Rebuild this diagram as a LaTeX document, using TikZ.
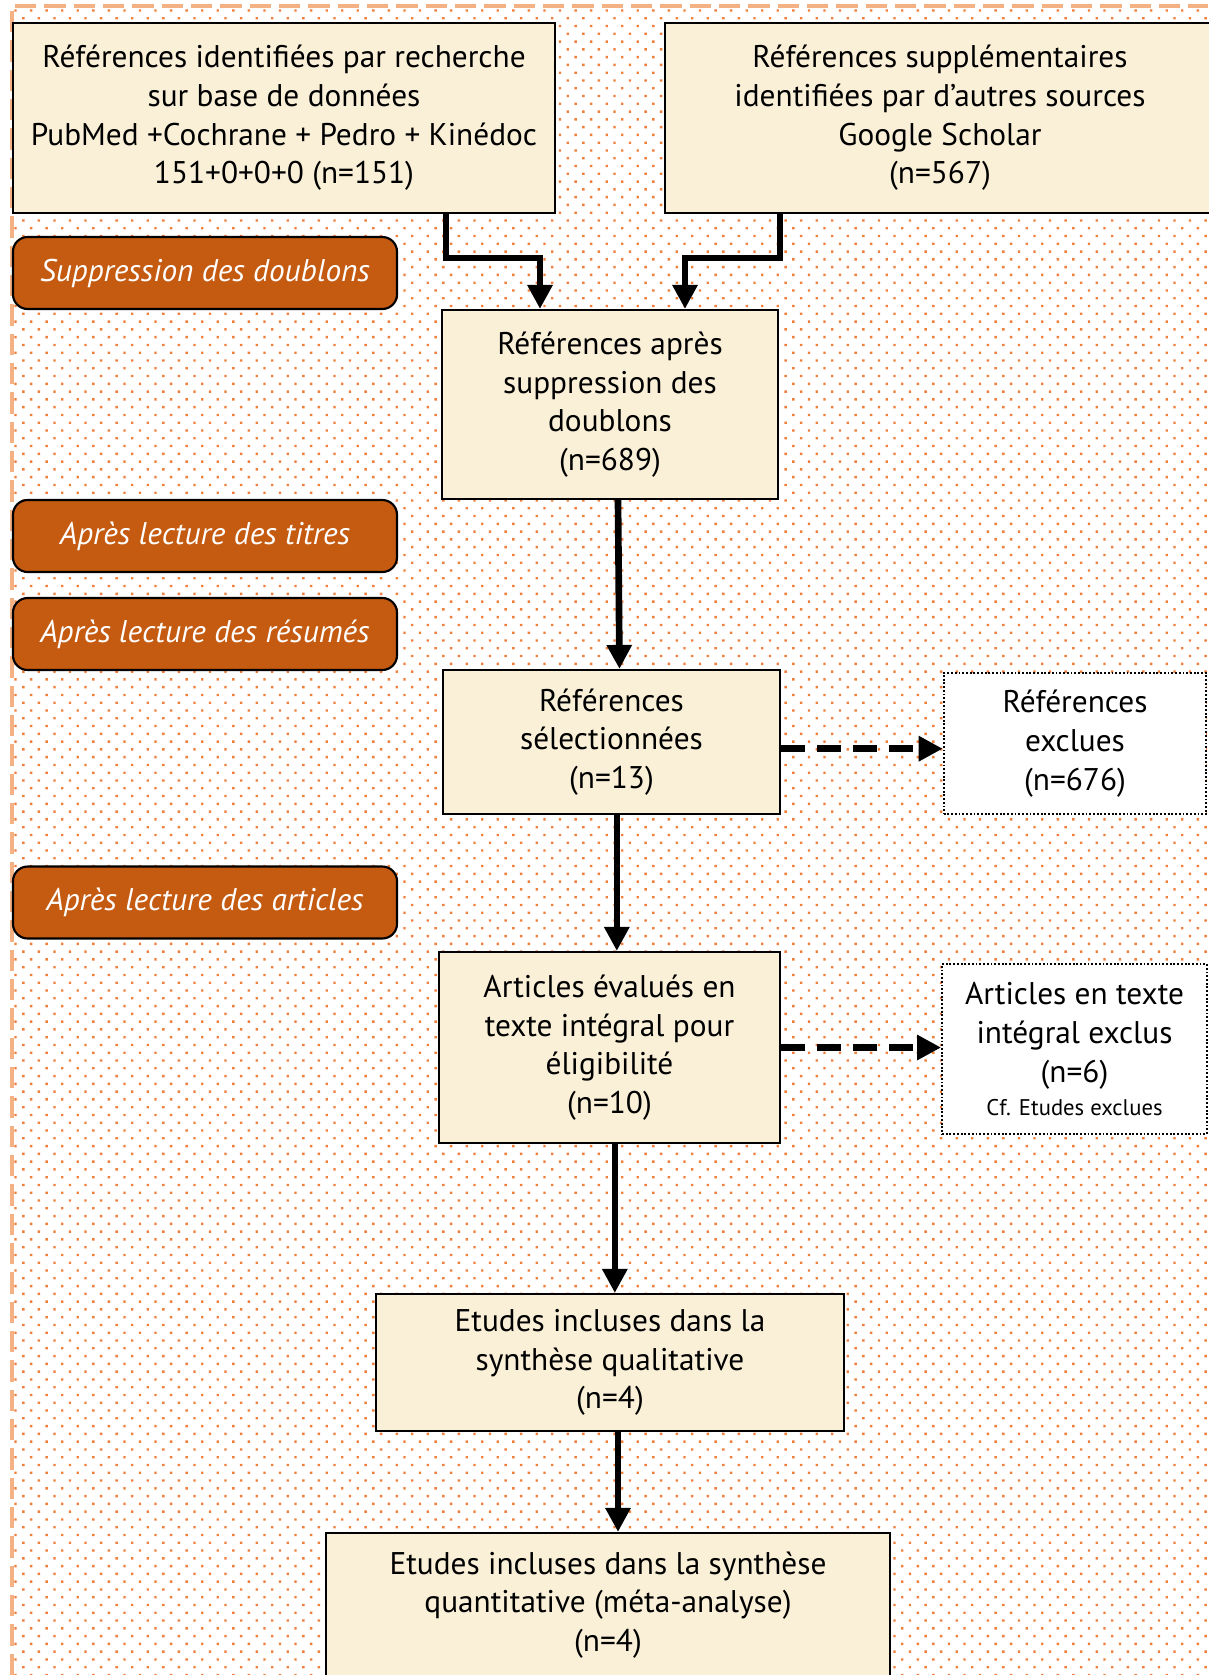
\documentclass[tikz,border=0pt]{standalone}
\usepackage{fontspec}
\setmainfont{PT Sans}
\usepackage{tikz}
\usepackage{xcolor}
\usetikzlibrary{arrows.meta}
\usetikzlibrary{calc}
\usetikzlibrary{patterns.meta}
\definecolor{parch}{HTML}{FAF0D8}
\definecolor{rust}{HTML}{C55A11}
\definecolor{dotcol}{HTML}{F07F3C}
\definecolor{rim}{HTML}{F4B183}
\tikzstyle{box} = [draw,line width=1.6pt,fill=parch,align=center,inner sep=0pt,font=\fontsize{23.5}{29}\selectfont]
\tikzstyle{exbox} = [draw,line width=1.4pt,dash pattern=on 1.4pt off 1.4pt,fill=white,align=center,inner sep=0pt,font=\fontsize{23.5}{29}\selectfont]
\tikzstyle{stage} = [draw,line width=1.6pt,fill=rust,text=white,rounded corners=11pt,minimum width=288pt,minimum height=54pt,font=\fontsize{23.5}{29}\selectfont\itshape]
\tikzstyle{arrow} = [line width=5pt,-{Triangle[length=18pt,width=18pt]}]
\tikzstyle{darrow} = [arrow,dash pattern=on 18pt off 9pt]

\begin{document}
\begin{tikzpicture}[x=0.75pt,y=-0.75pt]
  \useasboundingbox (0,0) rectangle (1208,1675);
  \fill[white] (0,0) rectangle (1208,1675);
  \fill[pattern={Dots[distance=8.25pt,radius=1.25pt,angle=45]},pattern color=dotcol] (14,8) rectangle (1208,1675);
  \draw[rim,line width=2.5pt,dash pattern=on 16pt off 6pt] (12,1675) -- (12,6) -- (1208,6);

  \node[box,minimum width=406.5pt,minimum height=142.5pt] (db) at (284,118)
    {Références identifiées par recherche\\sur base de données\\PubMed +Cochrane + Pedro + Kinédoc\\151+0+0+0 (n=151)};
  \node[box,minimum width=412.5pt,minimum height=142.5pt] (gs) at (940,118)
    {Références supplémentaires\\identifiées par d’autres sources\\Google Scholar\\(n=567)};
  \node[box,minimum width=252pt,minimum height=141.75pt] (dup) at (610,404.5)
    {Références après\\suppression des\\doublons\\(n=689)};
  \node[box,minimum width=252.75pt,minimum height=108pt] (sel) at (611.5,742)
    {Références\\sélectionnées\\(n=13)};
  \node[exbox,minimum width=197pt,minimum height=105.75pt] (exref) at (1075,743.5)
    {Références\\exclues\\(n=676)};
  \node[box,minimum width=255.75pt,minimum height=143.25pt] (full) at (609.5,1047.5)
    {Articles évalués en\\texte intégral pour\\éligibilité\\(n=10)};
  \node[exbox,minimum width=198.75pt,minimum height=127.5pt] (exart) at (1074.5,1049)
    {Articles en texte\\intégral exclus\\(n=6)\\[-4pt]{\fontsize{17}{20}\selectfont Cf. Etudes exclues}};
  \node[box,minimum width=351pt,minimum height=102.75pt] (qual) at (610,1362.5)
    {Etudes incluses dans la\\synthèse qualitative\\(n=4)};
  \node[box,minimum width=423pt,minimum height=108pt] (quant) at (608,1605)
    {Etudes incluses dans la synthèse\\quantitative (méta-analyse)\\(n=4)};

  \node[stage] (s1) at (205,273) {Suppression des doublons};
  \node[stage] (s2) at (205,536) {Après lecture des titres};
  \node[stage] (s3) at (205,634) {Après lecture des résumés};
  \node[stage] (s4) at (205,902.5) {Après lecture des articles};

  \draw[arrow] ($(db.south)+(162,0)$) |- ($(dup.north)+(-70,-51)$) -- ($(dup.north)+(-70,0)$);
  \draw[arrow] ($(gs.south)+(-160,0)$) |- ($(dup.north)+(75,-51)$) -- ($(dup.north)+(75,0)$);
  \draw[arrow] ([xshift=6pt]dup.south) -- ([xshift=6pt]sel.north);
  \draw[arrow] ([xshift=4pt]sel.south) -- ([xshift=4pt]sel.south |- full.north);
  \draw[arrow] ([xshift=4pt]full.south) -- ([xshift=4pt]full.south |- qual.north);
  \draw[arrow] ([xshift=6pt]qual.south) -- ([xshift=6pt]qual.south |- quant.north);
  \draw[darrow] ([yshift=-5pt]sel.east) -- ([yshift=-5pt]sel.east -| exref.west);
  \draw[darrow] (full.east) -- (full.east -| exart.west);
\end{tikzpicture}
\end{document}
